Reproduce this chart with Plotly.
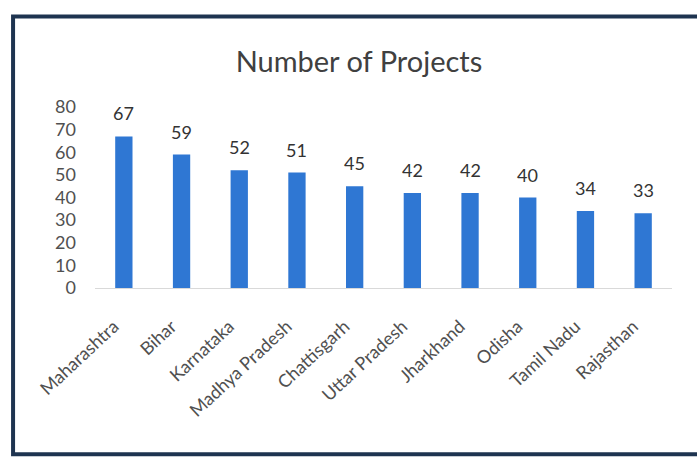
import plotly.graph_objects as go

states = ["Maharashtra", "Bihar", "Karnataka", "Madhya Pradesh", "Chattisgarh",
          "Uttar Pradesh", "Jharkhand", "Odisha", "Tamil Nadu", "Rajasthan"]
projects = [67, 59, 52, 51, 45, 42, 42, 40, 34, 33]
y_ticks = [0, 10, 20, 30, 40, 50, 60, 70, 80]

FONT = "Lato, Open Sans, sans-serif"
fig = go.Figure()
fig.add_trace(go.Bar(
    x=states, y=projects, width=0.3,
    marker=dict(color="#2f77d3", line=dict(width=0)),
    hoverinfo="x+y",
))
for s, v in zip(states, projects):
    fig.add_annotation(x=s, y=v, text=str(v), showarrow=False,
                       yanchor="bottom", yshift=10,
                       font=dict(family=FONT, size=18, color="#333333"))

fig.update_layout(
    width=697, height=461,
    margin=dict(l=95, r=25, t=107, b=173),
    paper_bgcolor="white", plot_bgcolor="white",
    showlegend=False,
    title=dict(text="Number of Projects", x=0.515, xanchor="center",
               y=1 - 62 / 461, yanchor="middle", xref="container", yref="container",
               font=dict(family=FONT, size=29, color="#404040")),
    bargap=0.7,
)
fig.update_xaxes(range=[-0.5, 9.5], tickangle=-43, showgrid=False,
                 showline=True, linecolor="#d9d9d9", linewidth=1, ticks="",
                 ticklabelstandoff=20, ticklabelshift=-10,
                 tickfont=dict(family=FONT, size=18, color="#505050"))
fig.update_yaxes(range=[0, 80], tickvals=y_ticks, showgrid=False, zeroline=False,
                 showline=False, ticks="", ticklabelstandoff=18,
                 tickfont=dict(family=FONT, size=18, color="#505050"))

# outer frame of the chart
fig.add_shape(type="rect", xref="paper", yref="paper",
              x0=-0.142, x1=1.06, y0=-0.918, y1=1.50,
              line=dict(color="#1e3450", width=4), fillcolor="rgba(0,0,0,0)",
              layer="above")

fig.write_html("out.html")
